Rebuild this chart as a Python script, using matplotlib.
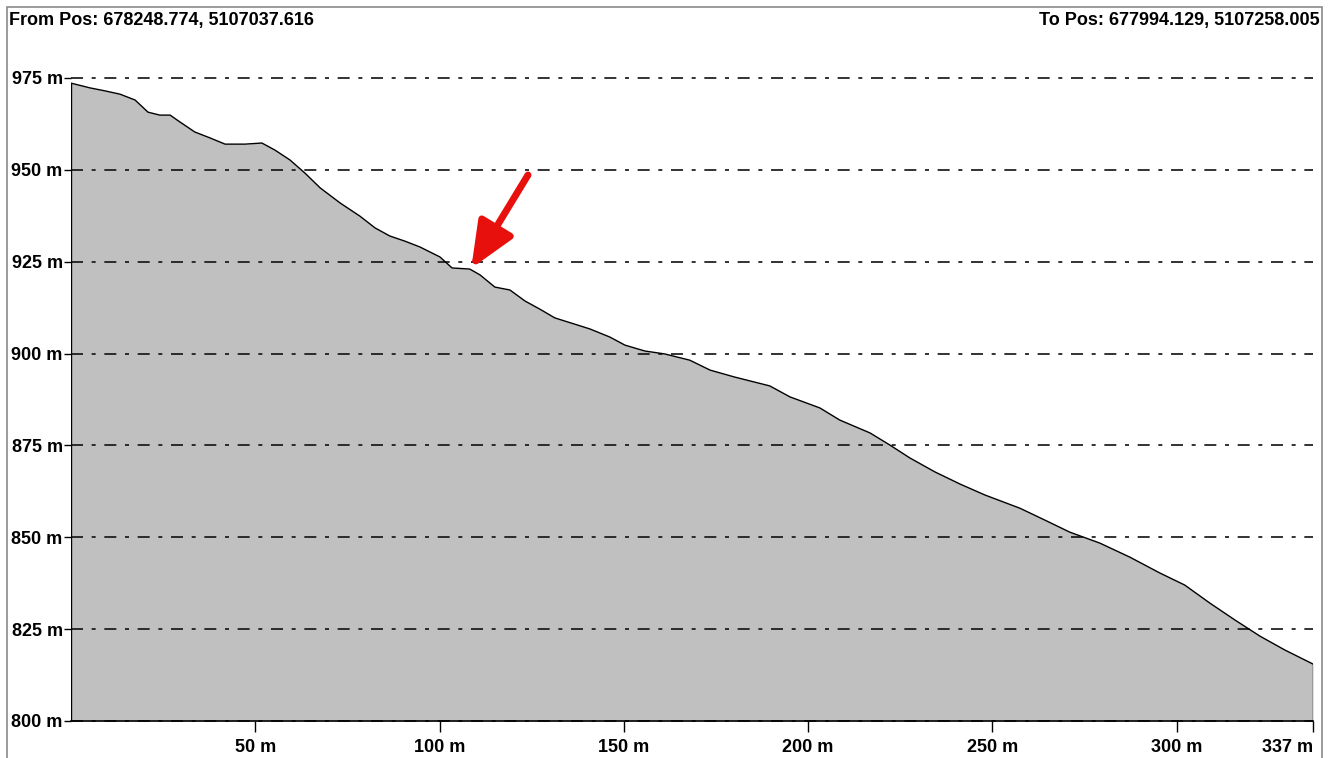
import matplotlib.pyplot as plt
from matplotlib.patches import Rectangle

plt.rcParams['font.family'] = ['Liberation Sans', 'DejaVu Sans']
plt.rcParams['font.weight'] = 'bold'

# profile: distance (m), elevation (m)
distance = [0, 5.2, 9.2, 13.3, 17.4, 20.9, 24.1, 26.9, 29.6, 33.6, 37.7, 41.8,
            47.2, 51.8, 55.3, 59.4, 63.5, 67.6, 73.0, 78.4, 82.5, 86.5, 90.6,
            94.7, 100.1, 103.4, 108.2, 111.0, 115.0, 119.1, 123.2, 127.2,
            131.3, 136.7, 140.8, 146.2, 150.3, 155.7, 161.1, 167.9, 173.4,
            180.1, 189.6, 195.1, 203.2, 208.6, 216.8, 222.2, 227.6, 234.4,
            241.2, 248.0, 257.5, 264.2, 271.0, 279.2, 287.3, 295.4, 302.2,
            309.0, 315.8, 322.6, 329.4, 337.0]
elevation = [973.6, 972.3, 971.5, 970.6, 969.0, 965.7, 964.9, 964.9, 963.0,
             960.3, 958.7, 957.0, 957.0, 957.3, 955.4, 952.7, 949.1, 945.1,
             941.0, 937.4, 934.2, 932.0, 930.6, 929.0, 926.3, 923.3, 923.0,
             921.4, 918.1, 917.3, 914.3, 912.1, 909.7, 908.0, 906.7, 904.5,
             902.3, 900.7, 899.9, 898.2, 895.5, 893.6, 891.2, 888.2, 885.2,
             881.9, 878.4, 875.1, 871.6, 867.8, 864.5, 861.5, 857.9, 854.7,
             851.4, 848.4, 844.6, 840.3, 837.0, 832.1, 827.5, 823.1, 819.3,
             815.5]

y_ticks = [800, 825, 850, 875, 900, 925, 950, 975]
x_ticks = [50, 100, 150, 200, 250, 300, 337]
from_pos = "From Pos: 678248.774, 5107037.616"
to_pos = "To Pos: 677994.129, 5107258.005"

W, H = 1340, 758
fig = plt.figure(figsize=(W / 100, H / 100), dpi=100)

# outer frame
fig.patches.append(Rectangle((7 / W, -0.01), (1322 - 7) / W, 1 - 7 / H + 0.01,
                             transform=fig.transFigure, fill=False,
                             edgecolor='#8a8a8a', lw=1.2))

ax = fig.add_axes([71 / W, 1 - 721 / H, (1313 - 71) / W, (721 - 78) / H])
ax.set_xlim(0, 337)
ax.set_ylim(800, 975)

ax.fill_between(distance, elevation, 800, color='#c0c0c0', lw=0, zorder=1)
ax.plot(distance, elevation, color='black', lw=1, zorder=3)
ax.vlines([0, 337], 800, [elevation[0], elevation[-1]], color='black', lw=1, zorder=3)

for yv in y_ticks:
    ax.axhline(yv, color='#111111', lw=1.2, ls=(0, (7.2, 5.2, 2.4, 5.2)),
               zorder=2, clip_on=False)

for s in ['top', 'right', 'left']:
    ax.spines[s].set_visible(False)
ax.spines['bottom'].set_linewidth(1.2)

ax.set_yticks(y_ticks)
ax.set_yticklabels([f"{v} m" for v in y_ticks])
ax.set_xticks(x_ticks)
ax.set_xticklabels([f"{v} m" for v in x_ticks])
ax.get_xticklabels()[-1].set_horizontalalignment('right')
ax.tick_params(axis='y', length=5, width=1, pad=1, labelsize=13)
ax.tick_params(axis='x', length=8, width=1, pad=5, labelsize=13)

# red arrow pointing at the small step
ax.annotate('', xy=(108.6, 923.2), xytext=(124, 948.6),
            arrowprops=dict(arrowstyle='-|>,head_length=1.4,head_width=0.6',
                            color='#e8100c', lw=5, mutation_scale=20,
                            shrinkA=0, shrinkB=0),
            zorder=5, annotation_clip=False)

fig.text(9 / W, 1 - 20 / H, from_pos, ha='left', va='center',
         fontsize=13, fontweight='bold')
fig.text(1320 / W, 1 - 20 / H, to_pos, ha='right', va='center',
         fontsize=13, fontweight='bold')

fig.savefig('out.png', dpi=100)
